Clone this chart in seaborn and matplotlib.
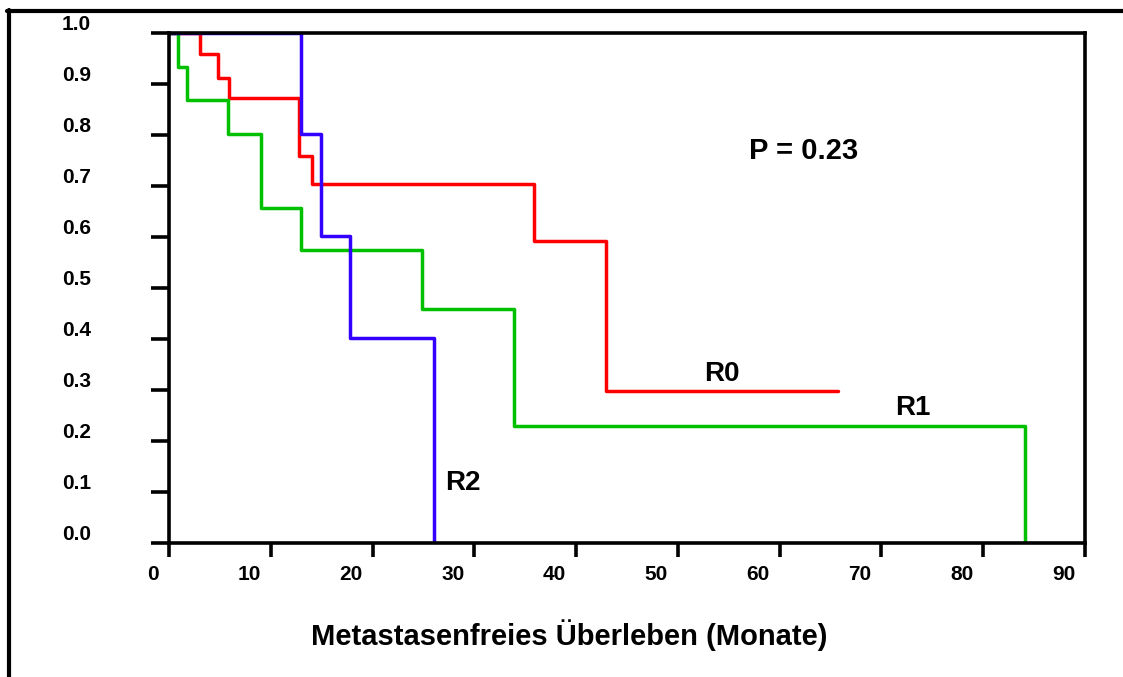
import numpy as np
import pandas as pd
import matplotlib
matplotlib.use("Agg")
import matplotlib.pyplot as plt
import matplotlib.transforms as mtransforms
from matplotlib.lines import Line2D
import seaborn as sns

# Kaplan-Meier Stufen
r0_t = [0, 3.0, 4.8, 5.9, 12.8, 14.0, 35.9, 42.9, 65.7]
r0_s = [1.0, 0.958, 0.912, 0.873, 0.759, 0.704, 0.591, 0.298, 0.298]
r1_t = [0, 0.85, 1.8, 5.8, 9.0, 13.0, 24.9, 33.9, 84.1]
r1_s = [1.0, 0.934, 0.869, 0.802, 0.656, 0.574, 0.459, 0.229, 0.0]
r2_t = [0, 13.0, 14.9, 17.8, 26.05]
r2_s = [1.0, 0.801, 0.602, 0.402, 0.0]

groups = ["R0", "R1", "R2"]
colors = {"R0": "#ff0000", "R1": "#00c000", "R2": "#3300ff"}
x_ticks = [0, 10, 20, 30, 40, 50, 60, 70, 80, 90]
y_ticks = [0.0, 0.1, 0.2, 0.3, 0.4, 0.5, 0.6, 0.7, 0.8, 0.9, 1.0]

df = pd.concat([
    pd.DataFrame({"t": r0_t, "s": r0_s, "group": "R0"}),
    pd.DataFrame({"t": r1_t, "s": r1_s, "group": "R1"}),
    pd.DataFrame({"t": r2_t, "s": r2_s, "group": "R2"}),
])

sns.set_style("white")
plt.rcParams["font.family"] = ["Liberation Sans", "DejaVu Sans"]
plt.rcParams["font.weight"] = "bold"
plt.rcParams["text.color"] = "black"
plt.rcParams["axes.labelcolor"] = "black"
plt.rcParams["xtick.color"] = "black"
plt.rcParams["ytick.color"] = "black"

fig = plt.figure(figsize=(11.23, 6.77), dpi=100)
ax = fig.add_axes([0.1505, 0.1984, 0.8157, 0.7529])

sns.lineplot(data=df, x="t", y="s", hue="group", palette=colors,
             estimator=None, sort=False, drawstyle="steps-post",
             linewidth=2.5, legend=False, ax=ax)

ax.set_xlim(0, 90)
ax.set_ylim(0, 1.0)
ax.set_xticks(x_ticks)
ax.set_yticks(y_ticks)
ax.set_xticklabels([str(v) for v in x_ticks], fontsize=15, fontweight="bold", ha="right")
ax.set_yticklabels(["%.1f" % v for v in y_ticks], fontsize=15, fontweight="bold")
ax.tick_params(axis="x", direction="out", length=10, width=2.6, pad=6, bottom=True, colors="black")
ax.tick_params(axis="y", direction="out", length=13, width=2.6, pad=43, left=True, colors="black")
for lab in ax.get_xticklabels():
    lab.set_transform(lab.get_transform() + mtransforms.ScaledTranslation(-0.10, 0, fig.dpi_scale_trans))
for lab in ax.get_yticklabels():
    lab.set_transform(lab.get_transform() + mtransforms.ScaledTranslation(0, 0.10, fig.dpi_scale_trans))

for sp in ax.spines.values():
    sp.set_visible(True)
    sp.set_color("black")
    sp.set_linewidth(2.6)

ax.set_xlabel("Metastasenfreies Überleben (Monate)", fontsize=21, fontweight="bold", color="black")
ax.xaxis.set_label_coords(0.437, -0.150)
ax.set_ylabel("")

ax.text(62.3, 0.768, "P = 0.23", fontsize=21, fontweight="bold", ha="center", va="center")
ax.text(54.3, 0.331, "R0", fontsize=20, fontweight="bold", ha="center", va="center")
ax.text(73.1, 0.264, "R1", fontsize=20, fontweight="bold", ha="center", va="center")
ax.text(28.9, 0.118, "R2", fontsize=20, fontweight="bold", ha="center", va="center")

# Rahmen links und oben
fig.add_artist(Line2D([0.008, 0.008], [0.0, 0.985], color="black", lw=3, transform=fig.transFigure))
fig.add_artist(Line2D([0.0065, 1.0], [0.984, 0.984], color="black", lw=3, transform=fig.transFigure))

fig.savefig("out.png", dpi=100)
